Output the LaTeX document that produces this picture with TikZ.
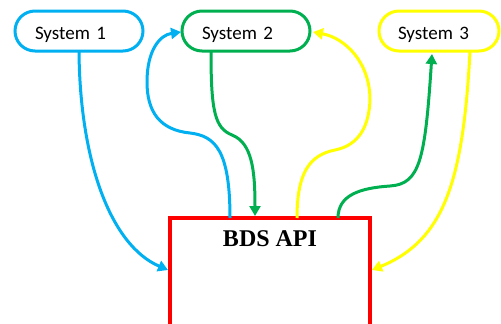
\documentclass[tikz,border=0pt]{standalone}
\usepackage{fontspec}
\setmainfont{Liberation Serif}
\newfontfamily\sysfont{Carlito}
\usetikzlibrary{arrows.meta}
\definecolor{cblue}{HTML}{00B0F0}
\definecolor{cgreen}{HTML}{00B050}
\definecolor{cyellow}{HTML}{FFFF00}
\definecolor{cred}{HTML}{FF0000}
\tikzset{
  sysbox/.style={draw, line width=3pt, rounded corners=20pt, minimum height=40pt,
    inner xsep=0pt, inner ysep=0pt, align=left, text height=17pt, text depth=0pt,
    font=\sysfont\fontsize{19}{22}\selectfont, anchor=center},
  conn/.style={line width=3pt, -{Triangle[length=10pt,width=11pt]}},
}
\begin{document}
\begin{tikzpicture}[x=1pt,y=-1pt]
\useasboundingbox (0,0) rectangle (501,324);
\clip (0,0) rectangle (501,324);
% systems
\node[sysbox, cblue, text=black, minimum width=128pt, text width=88pt] (s1) at (79,31) {System 1};
\node[sysbox, cgreen, text=black, minimum width=128pt, text width=88pt] (s2) at (246,31) {System 2};
\node[sysbox, cyellow, text=black, minimum width=120pt, text width=82pt] (s3) at (439,31) {System 3};
% API box
\node[draw=cred, line width=4pt, minimum width=200pt, minimum height=108pt, inner sep=0pt] (api) at (270,272) {};
\node[font=\bfseries\fontsize{24}{28}\selectfont, anchor=base] (apitext) at (270,246) {BDS API};
% anchor points
\coordinate (b2s) at (230,218);
\coordinate (g2e) at (255,216);
\coordinate (y2s) at (297,218);
\coordinate (g3s) at (338,218);
\coordinate (b1e) at (168,270);
\coordinate (y3e) at (372,270);
\coordinate (s1o) at (79,52);
\coordinate (s2o) at (211,52);
\coordinate (s3o) at (470,52);
\coordinate (s2l) at (181,32);
\coordinate (s2r) at (313,32);
\coordinate (s3b) at (432,54);
% connectors
\draw[conn, cblue] (s1o) .. controls (80,160) and (110,245) .. (b1e);
\draw[conn, cblue] (b2s) .. controls (230,150) and (215,136) .. (190,133)
  .. controls (160,130) and (147,112) .. (147,82)
  .. controls (147,50) and (160,35) .. (s2l);
\draw[conn, cgreen] (s2o) .. controls (211,112) and (215,128) .. (232,135)
  .. controls (252,143) and (255,170) .. (g2e);
\draw[conn, cyellow] (y2s) .. controls (297,172) and (310,155) .. (335,150)
  .. controls (360,145) and (369,125) .. (370,100)
  .. controls (370,62) and (345,38) .. (s2r);
\draw[conn, cgreen] (g3s) .. controls (338,195) and (360,188) .. (390,186)
  .. controls (420,184) and (425,160) .. (s3b);
\draw[conn, cyellow] (s3o) .. controls (463,180) and (445,240) .. (y3e);
\end{tikzpicture}
\end{document}
